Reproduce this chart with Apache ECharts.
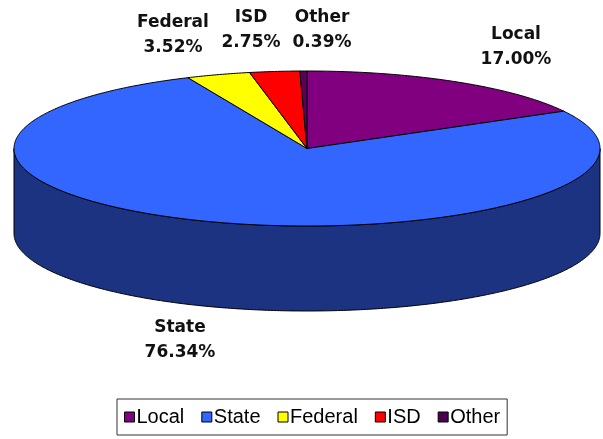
<!DOCTYPE html>
<html>
<head>
<meta charset="utf-8">
<script src="https://cdn.jsdelivr.net/npm/echarts@6/dist/echarts.min.js"></script>
<style>
  html, body { margin: 0; padding: 0; background: #fff; }
  #main { width: 603px; height: 439px; }
</style>
</head>
<body>
<div id="main"></div>
<script>
// revenue share by source (%)
var categories = ['Local', 'State', 'Federal', 'ISD', 'Other'];
var shares = [17.00, 76.34, 3.52, 2.75, 0.39];

var topColors = ['#800080', '#3366FF', '#FFFF00', '#FF0000', '#5A005A'];
var sideColors = ['#400040', '#1B3380', '#808000', '#800000', '#2D002D'];
var legendColors = ['#800080', '#3366FF', '#FFFF00', '#FF0000', '#4B0050'];

// text placement of each slice label (center of the two-line block)
var labelAt = {
  Local: [516, 47],
  State: [180, 340],
  Federal: [173, 35],
  ISD: [251, 30],
  Other: [322, 30]
};

// ellipse of the top face + thickness
var cx = 307, cy = 148.5, rx = 293, ry = 77.5, depth = 85;

var total = shares.reduce(function (a, b) { return a + b; }, 0);
var starts = [];
shares.reduce(function (acc, v) { starts.push(acc); return acc + v; }, 0);

function arc(a0, a1, dy) {
  var pts = [];
  var n = Math.max(2, Math.ceil((a1 - a0) / 0.01));
  for (var k = 0; k <= n; k++) {
    var t = a0 + (a1 - a0) * k / n;
    pts.push([cx + rx * Math.sin(t), cy - ry * Math.cos(t) + dy]);
  }
  return pts;
}

function renderItem(params, api) {
  var i = params.seriesIndex;
  var start = api.value(0), val = api.value(1);
  var s = start / total * 2 * Math.PI;
  var e = (start + val) / total * 2 * Math.PI;
  var children = [];
  // visible front wall (between 3 and 9 o'clock)
  var lo = Math.max(s, Math.PI / 2), hi = Math.min(e, 1.5 * Math.PI);
  if (hi > lo) {
    children.push({
      type: 'polygon', z2: 1,
      shape: { points: arc(lo, hi, 0).concat(arc(lo, hi, depth).reverse()) },
      style: { fill: sideColors[i], stroke: '#000', lineWidth: 1 }
    });
  }
  children.push({
    type: 'polygon', z2: 5,
    shape: { points: [[cx, cy]].concat(arc(s, e, 0)) },
    style: { fill: topColors[i], stroke: '#000', lineWidth: 1 }
  });
  var pos = labelAt[categories[i]];
  children.push({
    type: 'text', z2: 10,
    style: {
      x: pos[0], y: pos[1],
      text: categories[i] + '\n' + shares[i].toFixed(2) + '%',
      align: 'center', verticalAlign: 'middle',
      fontFamily: 'DejaVu Sans', fontWeight: 'bold', fontSize: 17, lineHeight: 25,
      fill: '#111'
    }
  });
  return { type: 'group', children: children };
}

var myChart = echarts.init(document.getElementById('main'));
myChart.setOption({
  animation: false,
  backgroundColor: '#fff',
  legend: {
    data: categories,
    top: 399,
    left: 117,
    icon: 'rect',
    itemWidth: 10,
    itemHeight: 10,
    itemGap: 17,
    padding: [8, 7, 8, 7],
    borderColor: '#333',
    borderWidth: 1,
    selectedMode: false,
    itemStyle: { borderColor: '#000', borderWidth: 1 },
    textStyle: { fontFamily: 'Liberation Sans', fontSize: 20, color: '#000', padding: [0, 0, 0, -3] }
  },
  series: categories.map(function (name, i) {
    return {
      type: 'custom',
      name: name,
      coordinateSystem: 'none',
      silent: true,
      itemStyle: { color: legendColors[i] },
      renderItem: renderItem,
      data: [[starts[i], shares[i]]]
    };
  })
});
</script>
</body>
</html>
